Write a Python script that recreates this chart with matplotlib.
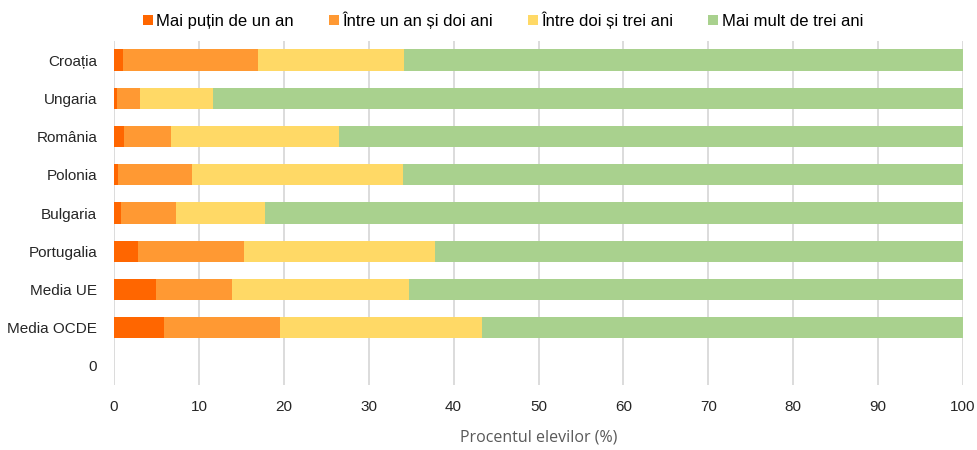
import numpy as np
import matplotlib
matplotlib.use("Agg")
import matplotlib.pyplot as plt

# categories top -> bottom
categories = ["Croația", "Ungaria", "România", "Polonia", "Bulgaria",
              "Portugalia", "Media UE", "Media OCDE", "0"]

# cumulative boundaries, converted to segment widths
lt_one = [1.1, 0.3, 1.2, 0.5, 0.8, 2.8, 4.9, 5.9, 0]
one_two = [15.9, 2.8, 5.55, 8.7, 6.5, 12.5, 9.0, 13.7, 0]
two_three = [17.2, 8.6, 19.75, 24.8, 10.5, 22.5, 20.9, 23.8, 0]
over_three = [65.8, 88.3, 73.5, 66.0, 82.2, 62.2, 65.2, 56.6, 0]

series_names = ["Mai puțin de un an", "Între un an și doi ani",
                "Între doi și trei ani", "Mai mult de trei ani"]
colors = ["#FF6600", "#FF9933", "#FFD966", "#A9D18E"]

plt.rcParams["font.family"] = ["Liberation Sans", "DejaVu Sans"]

fig = plt.figure(figsize=(9.77, 4.5), dpi=100)
ax = fig.add_axes([114 / 977, 1 - 385 / 450, 849 / 977, 344 / 450])

y = np.arange(len(categories))
left = np.zeros(len(categories))
for name, vals, col in zip(series_names, [lt_one, one_two, two_three, over_three], colors):
    ax.barh(y, vals, left=left, height=0.56, color=col, label=name, zorder=3)
    left += np.array(vals)

ax.set_ylim(len(categories) - 0.5, -0.5)
ax.set_xlim(0, 100)
ax.set_xticks(np.arange(0, 101, 10))
ax.set_yticks(y)
ax.set_yticklabels(categories)
ax.tick_params(axis="both", length=0, labelsize=11, colors="#262626")
ax.tick_params(axis="y", pad=12)
ax.tick_params(axis="x", pad=11)
ax.grid(axis="x", color="#D9D9D9", lw=1.3, zorder=0)
for s in ax.spines.values():
    s.set_visible(False)

ax.set_xlabel("Procentul elevilor (%)", fontsize=11.5, color="#595959",
              family=["Open Sans", "DejaVu Sans"], labelpad=11)

fig.legend(loc="upper center", bbox_to_anchor=(503 / 977, 1.008), ncol=4,
           frameon=False, fontsize=12, handlelength=0.6, handleheight=0.6,
           handletextpad=0.2, columnspacing=2.1)

fig.savefig("out.png", dpi=100)
